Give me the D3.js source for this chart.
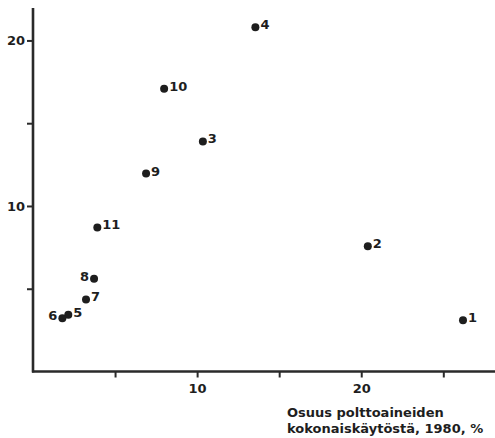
<!DOCTYPE html>
<html>
<head>
<meta charset="utf-8">
<script src="https://cdn.jsdelivr.net/npm/d3@7"></script>
<style>
    body { margin: 0; background: #fff; }
    svg text { font-family: "DejaVu Sans", Arial, sans-serif; font-weight: bold; fill: #1e1e1e; }
</style>
</head>
<body>
<div id="chart"></div>
<script>
// point ids and values
const ids = ["1", "2", "3", "4", "5", "6", "7", "8", "9", "10", "11"];
const xValues = [26.2, 20.4, 10.35, 13.55, 2.15, 1.79, 3.23, 3.72, 6.89, 7.99, 3.92];
const yValues = [3.1, 7.57, 13.9, 20.8, 3.43, 3.22, 4.35, 5.6, 11.96, 17.08, 8.7];
const labelSide = ["r", "r", "r", "r", "r", "l", "r", "l", "r", "r", "r"];

const xTicks = [5, 10, 15, 20, 25];
const xTickLabels = ["", "10", "", "20", ""];
const yTicks = [5, 10, 15, 20];
const yTickLabels = ["", "10", "", "20"];
const xTitle = ["Osuus polttoaineiden", "kokonaiskäytöstä, 1980, %"];

const points = ids.map((id, i) => ({ id: id, x: xValues[i], y: yValues[i], side: labelSide[i] }));

const width = 495, height = 438;
const margin = { top: 8, right: 0, bottom: 66, left: 34 };

const svg = d3.select("#chart").append("svg")
    .attr("width", width)
    .attr("height", height);

const xScale = d3.scaleLinear()
    .domain([0, 28.15])
    .range([margin.left - 1, width - margin.right]);

const yScale = d3.scaleLinear()
    .domain([0, 21.96])
    .range([height - margin.bottom - 0.5, margin.top]);

// x axis
const xAxis = d3.axisBottom(xScale)
    .tickValues(xTicks)
    .tickSize(6)
    .tickPadding(6)
    .tickFormat((d, i) => xTickLabels[i]);

const gx = svg.append("g")
    .attr("transform", "translate(0," + yScale(0) + ")")
    .call(xAxis);

// y axis
const yAxis = d3.axisLeft(yScale)
    .tickValues(yTicks)
    .tickSize(6)
    .tickPadding(2)
    .tickFormat((d, i) => yTickLabels[i]);

const gy = svg.append("g")
    .attr("transform", "translate(" + xScale(0) + ",0)")
    .call(yAxis);

[gx, gy].forEach(g => {
    g.select(".domain").attr("stroke", "#2a2a2a").attr("stroke-width", 2.6);
    g.selectAll(".tick line").attr("stroke", "#2a2a2a").attr("stroke-width", 2);
    g.selectAll(".tick text").attr("font-size", 13).attr("fill", "#1e1e1e")
        .style("font-family", "'DejaVu Sans', Arial, sans-serif").style("font-weight", "bold");
});
// no outer tick stubs in the original
gx.select(".domain").attr("d", "M" + (xScale(0) - 1) + ",0H" + width);
gy.select(".domain").attr("d", "M0," + margin.top + "V" + (yScale(0) + 1));

// axis title, lower right
svg.append("text")
    .attr("x", 287)
    .attr("y", 417)
    .attr("font-size", 13)
    .selectAll("tspan")
    .data(xTitle)
    .enter()
    .append("tspan")
    .attr("x", 287)
    .attr("dy", (d, i) => i === 0 ? 0 : 15.5)
    .text(d => d);

// points
svg.append("g")
    .selectAll("circle")
    .data(points)
    .enter()
    .append("circle")
    .attr("cx", d => xScale(d.x))
    .attr("cy", d => yScale(d.y))
    .attr("r", 4)
    .attr("fill", "#1e1e1e");

// point labels
svg.append("g")
    .selectAll("text")
    .data(points)
    .enter()
    .append("text")
    .attr("x", d => xScale(d.x) + (d.side === "r" ? 5 : -5))
    .attr("y", d => yScale(d.y) + 2)
    .attr("text-anchor", d => d.side === "r" ? "start" : "end")
    .attr("font-size", 13)
    .text(d => d.id);
</script>
</body>
</html>
